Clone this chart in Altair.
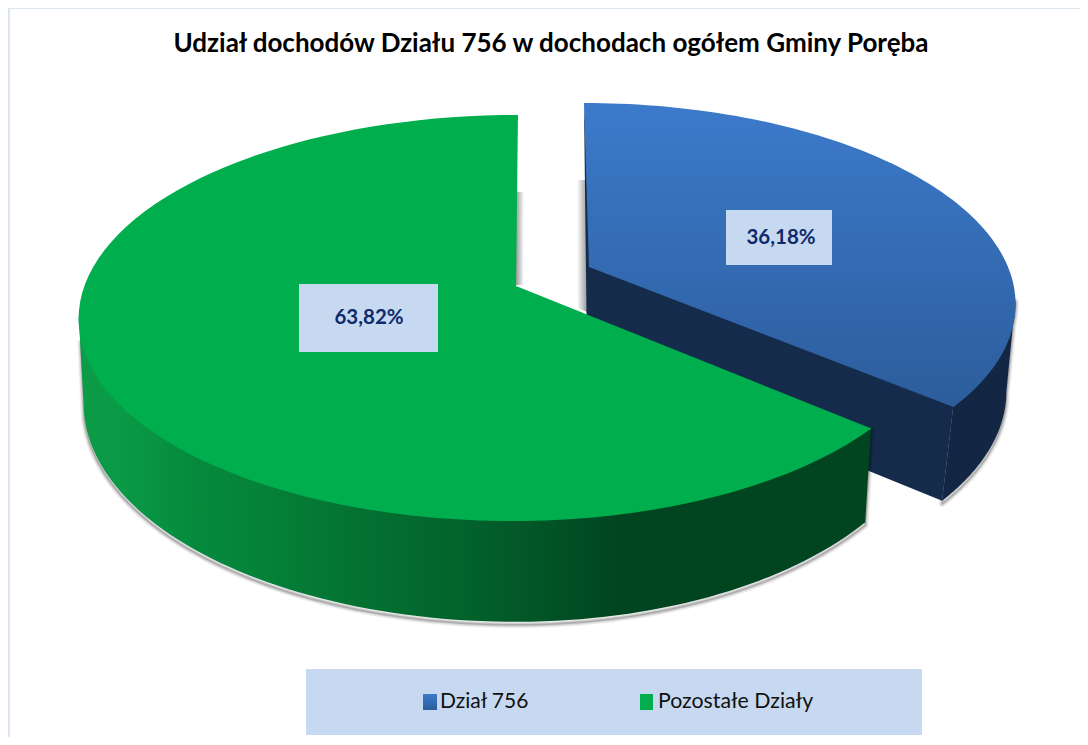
import math
import altair as alt
import pandas as pd

NAMES = ["Dział 756", "Pozostałe Działy"]
SHARES = [36.18, 63.82]
LABELS = ["36,18%", "63,82%"]
TITLE = "Udział dochodów Działu 756 w dochodach ogółem Gminy Poręba"

W, H = 1072, 729
PAD = 8


def ring(cx, cy, a_left, a_right, b, k, skew, t0, t1, n=90):
    pts = []
    for i in range(n + 1):
        t = math.radians(t0 + (t1 - t0) * i / n)
        X, Y = math.sin(t), -math.cos(t)
        s = 1 / (1 - k * Y)
        a = a_right if X > 0 else a_left
        pts.append([cx + a * X * s + skew * Y * s, cy + b * Y * s])
    return pts


def feature(pts):
    return {"type": "Feature", "properties": {},
            "geometry": {"type": "Polygon", "coordinates": [pts + [pts[0]]]}}


projection = alt.Projection(type="identity", scale=1, translate=[-PAD, -PAD])


def shape(pts, **mark):
    data = alt.Data(values={"type": "FeatureCollection", "features": [feature(pts)]},
                    format=alt.JsonDataFormat(type="json", property="features"))
    return alt.Chart(data).mark_geoshape(**mark).project(**projection.to_dict())


def shadow(pts, dx=0, dy=3):
    moved = [[x + dx, y + dy] for x, y in pts]
    return [shape(moved, fillOpacity=0, stroke="#000000", strokeOpacity=o, strokeWidth=w,
                  strokeJoin="round")
            for w, o in [(7, 0.05), (5, 0.07), (3, 0.10), (1.5, 0.14)]]


def lin(stops, x=False):
    return alt.LinearGradient(
        gradient="linear",
        stops=[alt.GradientStop(color=c, offset=o) for o, c in stops],
        x1=0, y1=0, x2=1 if x else 0, y2=0 if x else 1)


sweep = 360 * SHARES[0] / sum(SHARES)

# blue slice geometry
b_top = dict(cx=589, cy=267, a_left=419, a_right=419, b=192.5, k=0.1737, skew=5.9)
b_under = dict(b_top, cy=264)
b_bot = dict(cx=587, cy=356, a_left=413, a_right=413, b=199, k=0.1737, skew=0)
b_apex, b_apex2 = [589, 267], [587, 356]
b_tarc = ring(**b_top, t0=0, t1=sweep)
b_outer = ring(**b_under, t0=100, t1=sweep) + ring(**b_bot, t0=sweep, t1=100)
b_cut = [b_tarc[0], [b_apex[0] + 3, b_apex[1] - 3], ring(**b_under, t0=sweep, t1=sweep, n=1)[0],
         ring(**b_bot, t0=sweep, t1=sweep, n=1)[0], b_apex2]

# green slice geometry
g_top = dict(cx=516, cy=286, a_left=431.6, a_right=420, b=198, k=0.1576, skew=-2.3)
g_under = dict(g_top, cy=283)
g_bot = dict(cx=516, cy=369, a_left=427, a_right=411, b=213, k=0.1576, skew=0)
g_apex = [516, 286]
g_tarc = ring(**g_top, t0=sweep, t1=360)
g_wall = ring(**g_under, t0=sweep, t1=261) + ring(**g_bot, t0=261, t1=sweep)
g_wall_shadow = ring(**g_bot, t0=sweep, t1=258) + ring(**g_top, t0=255, t1=sweep)

gap_green = [[516, 192], [524, 192], [523, 285], [516, 285]]
gap_blue = [[577, 180], [586, 180], [587, 312], [578, 308]]

GREEN_WALL = [(0, "#0c9c48"), (0.058, "#0a9945"), (0.147, "#058a3c"), (0.248, "#058038"),
              (0.324, "#047533"), (0.413, "#036b2f"), (0.489, "#02622b"), (0.59, "#025327"),
              (0.68, "#004520"), (1, "#004520")]
BLUE_TOP = [(0, "#3C7ACB"), (1, "#2C5D9C")]

layers = []
# frame
frame = pd.DataFrame({"k": [0]})
layers.append(alt.Chart(frame).mark_rule(color="#DCE6F1", strokeWidth=2).encode(
    x=alt.value(0), x2=alt.value(W), y=alt.value(0)))
layers.append(alt.Chart(frame).mark_rule(color="#DCE6F1", strokeWidth=2).encode(
    x=alt.value(1), y=alt.value(0), y2=alt.value(H)))

layers.append(shape(gap_blue, fill=lin([(0, "#ffffff"), (1, "#9a9a9a")], x=True), strokeWidth=0))
layers.append(shape(gap_green, fill=lin([(0, "#9a9a9a"), (1, "#ffffff")], x=True), strokeWidth=0))
layers += shadow(b_outer)
layers.append(shape(b_outer, fill="#132745", strokeWidth=0))
layers.append(shape(b_cut, fill="#152B4B", strokeWidth=0))
layers.append(shape(b_tarc + [b_apex], fill=lin(BLUE_TOP), strokeWidth=0))
layers += shadow(g_wall_shadow)
layers.append(shape(g_wall, fill=lin(GREEN_WALL, x=True), strokeWidth=0))
layers.append(shape(g_tarc + [g_apex], fill="#00AE4E", strokeWidth=0))


def box(x0, y0, x1, y1, color):
    return alt.Chart(frame).mark_rect(color=color).encode(
        x=alt.value(x0 - PAD), x2=alt.value(x1 - PAD),
        y=alt.value(y0 - PAD), y2=alt.value(y1 - PAD))


def text(s, x, y, **kw):
    return alt.Chart(pd.DataFrame({"t": [s]})).mark_text(font="Lato", baseline="middle", **kw).encode(
        text="t:N", x=alt.value(x - PAD), y=alt.value(y - PAD))


# data labels
layers.append(box(726, 210, 832, 265, "#C6D9F1"))
layers.append(box(299, 284, 438, 352, "#C6D9F1"))
layers.append(text(LABELS[0], 781, 238, fontSize=20.5, fontWeight="bold", color="#0F2A6B", align="center"))
layers.append(text(LABELS[1], 369, 318, fontSize=20.5, fontWeight="bold", color="#0F2A6B", align="center"))

# legend
layers.append(box(306, 669, 922, 735, "#C6D9F1"))
layers.append(alt.Chart(frame).mark_rect(fill=lin(BLUE_TOP)).encode(
    x=alt.value(423 - PAD), x2=alt.value(437 - PAD), y=alt.value(694 - PAD), y2=alt.value(710 - PAD)))
layers.append(box(640, 694, 653, 710, "#00AE4E"))
layers.append(text(NAMES[0], 440, 702, fontSize=21, color="#111111", align="left"))
layers.append(text(NAMES[1], 658, 702, fontSize=21.3, color="#111111", align="left"))

chart = alt.layer(*layers).properties(
    width=W, height=H, padding=0, autosize=alt.AutoSizeParams(type="none"),
    title=alt.TitleParams(text=TITLE, font="Lato", fontWeight="bold", fontSize=26,
                          anchor="middle", dx=7, offset=-50, color="#000000"),
).configure_view(stroke=None)

chart.save("out.html", embed_options={"renderer": "svg", "actions": False})
